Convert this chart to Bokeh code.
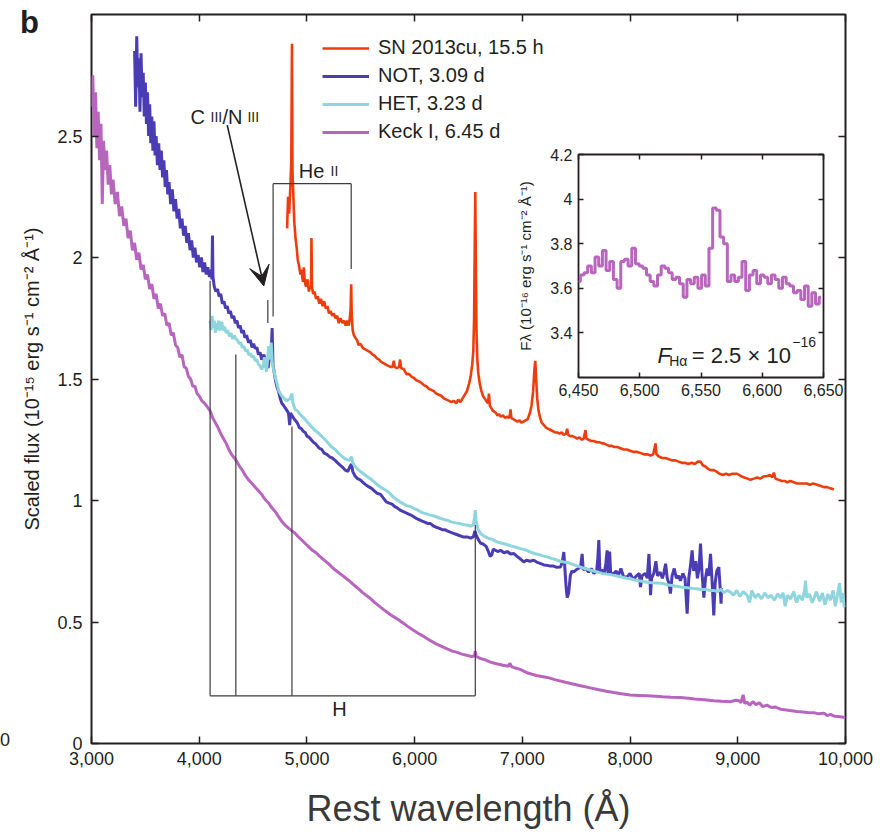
from bokeh.plotting import figure
from bokeh.models import (Legend, LegendItem, Label, Arrow, VeeHead, FixedTicker, Div,
                          NumeralTickFormatter, LinearAxis, CustomJSTickFormatter)
from bokeh.layouts import column
from bokeh.embed import file_html
from bokeh.resources import INLINE

# ---------------- data ----------------
SN_2013CU = [
    (4816, 2.12), (4825, 2.25), (4835, 2.18), (4847, 2.30), (4855, 2.40), (4861, 2.88), (4866, 2.35),
    (4872, 2.28), (4882, 2.15), (4894, 2.08), (4905, 2.04), (4915, 1.99), (4925, 1.97), (4940, 1.93),
    (4950, 1.95), (4956, 1.92), (4964, 1.90), (4971, 1.96), (4980, 1.90), (4992, 1.88), (5005, 1.91),
    (5018, 1.86), (5030, 1.88), (5038, 1.87), (5042, 2.08), (5047, 1.88), (5058, 1.85), (5070, 1.86),
    (5085, 1.83), (5100, 1.84), (5115, 1.81), (5130, 1.83), (5145, 1.80), (5160, 1.82), (5175, 1.79),
    (5190, 1.80), (5205, 1.77), (5219, 1.78), (5235, 1.76), (5250, 1.77), (5265, 1.75), (5280, 1.76),
    (5295, 1.73), (5312, 1.75), (5330, 1.73), (5345, 1.74), (5360, 1.72), (5374, 1.74), (5388, 1.72),
    (5398, 1.75), (5405, 1.78), (5411, 1.89), (5416, 1.76), (5425, 1.70), (5436, 1.68), (5450, 1.67),
    (5465, 1.66), (5480, 1.64), (5498, 1.645), (5515, 1.63), (5530, 1.625), (5550, 1.62), (5570, 1.615),
    (5590, 1.61), (5610, 1.60), (5630, 1.595), (5650, 1.585), (5670, 1.58), (5690, 1.57), (5710, 1.565),
    (5730, 1.56), (5750, 1.555), (5776, 1.55), (5795, 1.55), (5807, 1.575), (5815, 1.55), (5835, 1.545),
    (5855, 1.55), (5865, 1.58), (5875, 1.545), (5900, 1.54), (5925, 1.52), (5950, 1.52), (5970, 1.51),
    (5992, 1.505), (6015, 1.495), (6040, 1.49), (6060, 1.485), (6085, 1.475), (6110, 1.47), (6130, 1.46),
    (6155, 1.455), (6178, 1.45), (6200, 1.44), (6225, 1.435), (6250, 1.43), (6271, 1.42), (6295, 1.415),
    (6320, 1.41), (6340, 1.405), (6364, 1.41), (6385, 1.40), (6405, 1.415), (6425, 1.405), (6445, 1.42),
    (6465, 1.435), (6485, 1.45), (6505, 1.48), (6520, 1.51), (6535, 1.56), (6545, 1.62), (6552, 1.75),
    (6558, 2.05), (6563, 2.27), (6568, 2.00), (6574, 1.70), (6582, 1.58), (6592, 1.52), (6605, 1.48),
    (6620, 1.45), (6635, 1.43), (6650, 1.42), (6665, 1.41), (6680, 1.40), (6690, 1.44), (6698, 1.39),
    (6712, 1.38), (6725, 1.37), (6740, 1.365), (6755, 1.36), (6770, 1.35), (6785, 1.355), (6800, 1.345),
    (6820, 1.35), (6840, 1.34), (6860, 1.345), (6880, 1.34), (6890, 1.375), (6898, 1.34), (6915, 1.335),
    (6935, 1.33), (6955, 1.325), (6975, 1.33), (6990, 1.32), (7010, 1.325), (7030, 1.33), (7050, 1.335),
    (7070, 1.36), (7085, 1.39), (7100, 1.45), (7112, 1.54), (7120, 1.575), (7128, 1.50), (7138, 1.42),
    (7150, 1.37), (7165, 1.34), (7180, 1.32), (7200, 1.31), (7220, 1.30), (7240, 1.295), (7262, 1.29),
    (7285, 1.285), (7305, 1.28), (7324, 1.28), (7345, 1.275), (7365, 1.28), (7385, 1.27), (7405, 1.275),
    (7416, 1.295), (7425, 1.27), (7445, 1.265), (7465, 1.265), (7490, 1.26), (7509, 1.255), (7530, 1.26),
    (7550, 1.25), (7570, 1.255), (7586, 1.29), (7595, 1.255), (7615, 1.25), (7640, 1.245), (7663, 1.245),
    (7690, 1.24), (7715, 1.24), (7740, 1.235), (7756, 1.235), (7780, 1.23), (7805, 1.225), (7830, 1.225),
    (7855, 1.22), (7880, 1.22), (7911, 1.215), (7940, 1.21), (7970, 1.21), (8000, 1.205), (8030, 1.20),
    (8066, 1.20), (8100, 1.195), (8130, 1.19), (8160, 1.19), (8190, 1.185), (8215, 1.19), (8236, 1.235),
    (8245, 1.19), (8270, 1.18), (8300, 1.175), (8330, 1.175), (8360, 1.17), (8390, 1.165), (8420, 1.165),
    (8450, 1.16), (8480, 1.155), (8510, 1.155), (8540, 1.15), (8570, 1.155), (8600, 1.15), (8630, 1.16),
    (8654, 1.16), (8675, 1.145), (8700, 1.14), (8725, 1.13), (8747, 1.125), (8775, 1.125), (8800, 1.12),
    (8830, 1.11), (8860, 1.105), (8890, 1.11), (8920, 1.105), (8950, 1.11), (8994, 1.11), (9030, 1.10),
    (9060, 1.095), (9090, 1.09), (9118, 1.085), (9150, 1.09), (9180, 1.095), (9210, 1.09), (9242, 1.10),
    (9270, 1.10), (9300, 1.105), (9320, 1.095), (9335, 1.115), (9350, 1.09), (9380, 1.085), (9410, 1.08),
    (9440, 1.08), (9459, 1.075), (9490, 1.08), (9520, 1.075), (9550, 1.07), (9580, 1.07), (9613, 1.07),
    (9640, 1.07), (9670, 1.065), (9700, 1.07), (9737, 1.065), (9770, 1.06), (9800, 1.055), (9830, 1.055),
    (9860, 1.05), (9892, 1.045),
]

NOT_309 = [
    (3400, 2.85), (3410, 2.62), (3420, 2.91), (3430, 2.70), (3440, 2.82), (3450, 2.60), (3460, 2.84),
    (3470, 2.66), (3480, 2.76), (3490, 2.58), (3500, 2.72), (3510, 2.55), (3520, 2.68), (3530, 2.50),
    (3540, 2.63), (3550, 2.47), (3560, 2.58), (3570, 2.44), (3580, 2.56), (3590, 2.42), (3600, 2.50),
    (3612, 2.38), (3624, 2.47), (3636, 2.36), (3648, 2.44), (3660, 2.33), (3672, 2.40), (3684, 2.29),
    (3696, 2.36), (3708, 2.26), (3720, 2.31), (3735, 2.22), (3750, 2.28), (3765, 2.19), (3780, 2.24),
    (3795, 2.16), (3810, 2.20), (3825, 2.12), (3840, 2.16), (3855, 2.09), (3870, 2.13), (3885, 2.06),
    (3900, 2.10), (3915, 2.03), (3930, 2.07), (3945, 2.00), (3960, 2.04), (3975, 1.98), (3990, 2.01),
    (4005, 1.96), (4020, 2.00), (4035, 1.94), (4050, 1.98), (4065, 1.93), (4080, 1.96), (4095, 1.92),
    (4110, 1.95), (4118, 1.91), (4123, 2.09), (4128, 1.92), (4140, 1.88), (4155, 1.86), (4170, 1.87),
    (4185, 1.84), (4200, 1.85), (4215, 1.81), (4230, 1.82), (4245, 1.79), (4260, 1.80), (4275, 1.77),
    (4290, 1.78), (4305, 1.75), (4320, 1.76), (4335, 1.73), (4350, 1.74), (4365, 1.71), (4380, 1.72),
    (4395, 1.69), (4410, 1.70), (4425, 1.67), (4440, 1.68), (4458, 1.65), (4475, 1.66), (4490, 1.63),
    (4505, 1.645), (4520, 1.625), (4535, 1.63), (4550, 1.60), (4565, 1.61), (4580, 1.58), (4600, 1.60),
    (4620, 1.57), (4640, 1.545), (4655, 1.60), (4665, 1.58), (4677, 1.71), (4685, 1.56), (4695, 1.53),
    (4710, 1.49), (4720, 1.47), (4736, 1.45), (4752, 1.42), (4767, 1.40), (4785, 1.39), (4800, 1.38),
    (4815, 1.37), (4829, 1.36), (4840, 1.31), (4848, 1.36), (4860, 1.35), (4875, 1.34), (4891, 1.33),
    (4910, 1.32), (4930, 1.30), (4950, 1.295), (4965, 1.285), (4984, 1.28), (5000, 1.265), (5020, 1.26),
    (5040, 1.25), (5060, 1.24), (5077, 1.235), (5095, 1.225), (5115, 1.215), (5138, 1.21), (5160, 1.195),
    (5185, 1.19), (5210, 1.18), (5235, 1.175), (5262, 1.165), (5285, 1.155), (5310, 1.145), (5335, 1.135),
    (5355, 1.125), (5380, 1.12), (5400, 1.14), (5414, 1.15), (5425, 1.12), (5448, 1.10), (5470, 1.09),
    (5495, 1.085), (5520, 1.075), (5545, 1.065), (5572, 1.057), (5600, 1.05), (5625, 1.04), (5650, 1.03),
    (5683, 1.025), (5710, 1.01), (5735, 0.995), (5757, 0.99), (5790, 0.985), (5815, 0.975), (5838, 0.97),
    (5865, 0.96), (5890, 0.955), (5915, 0.95), (5940, 0.945), (5965, 0.94), (5992, 0.933), (6020, 0.925),
    (6045, 0.92), (6070, 0.915), (6100, 0.91), (6125, 0.905), (6147, 0.905), (6175, 0.895), (6200, 0.89),
    (6230, 0.885), (6255, 0.88), (6280, 0.88), (6302, 0.875), (6330, 0.87), (6360, 0.865), (6390, 0.86),
    (6420, 0.855), (6450, 0.85), (6488, 0.85), (6520, 0.845), (6545, 0.85), (6560, 0.875), (6570, 0.86),
    (6590, 0.84), (6611, 0.825), (6640, 0.82), (6665, 0.81), (6685, 0.79), (6700, 0.77), (6715, 0.775),
    (6730, 0.80), (6750, 0.795), (6770, 0.79), (6797, 0.795), (6830, 0.785), (6860, 0.79), (6890, 0.78),
    (6921, 0.782), (6950, 0.77), (6980, 0.76), (7014, 0.747), (7040, 0.755), (7070, 0.75), (7106, 0.754),
    (7140, 0.745), (7170, 0.74), (7200, 0.735), (7231, 0.733), (7260, 0.73), (7290, 0.73), (7320, 0.725),
    (7354, 0.726), (7370, 0.745), (7385, 0.788), (7395, 0.72), (7405, 0.65), (7416, 0.60), (7430, 0.62),
    (7445, 0.69), (7460, 0.71), (7478, 0.706), (7500, 0.715), (7520, 0.72), (7540, 0.726), (7555, 0.78),
    (7565, 0.715), (7590, 0.72), (7615, 0.705), (7640, 0.72), (7665, 0.70), (7690, 0.71), (7700, 0.76),
    (7710, 0.837), (7720, 0.70), (7735, 0.715), (7760, 0.70), (7775, 0.74), (7787, 0.795), (7795, 0.70),
    (7810, 0.79), (7820, 0.70), (7849, 0.70), (7870, 0.71), (7890, 0.69), (7915, 0.72), (7940, 0.685),
    (7973, 0.685), (8000, 0.70), (8030, 0.675), (8060, 0.69), (8085, 0.70), (8097, 0.644), (8110, 0.69),
    (8140, 0.70), (8160, 0.68), (8175, 0.78), (8185, 0.68), (8190, 0.61), (8200, 0.68), (8220, 0.70),
    (8240, 0.75), (8255, 0.69), (8280, 0.705), (8300, 0.68), (8313, 0.70), (8330, 0.74), (8345, 0.68),
    (8360, 0.66), (8375, 0.617), (8390, 0.69), (8410, 0.72), (8430, 0.68), (8450, 0.69), (8468, 0.67),
    (8490, 0.70), (8510, 0.68), (8530, 0.534), (8545, 0.68), (8560, 0.73), (8576, 0.795), (8590, 0.71),
    (8610, 0.75), (8625, 0.68), (8640, 0.72), (8654, 0.823), (8668, 0.70), (8685, 0.60), (8700, 0.68),
    (8715, 0.72), (8730, 0.69), (8747, 0.78), (8760, 0.68), (8777, 0.527), (8790, 0.66), (8805, 0.71),
    (8824, 0.726), (8835, 0.65), (8845, 0.575), (8850, 0.64),
]

HET_323 = [
    (4100, 1.74), (4110, 1.70), (4120, 1.76), (4130, 1.71), (4140, 1.74), (4150, 1.69), (4160, 1.73),
    (4170, 1.70), (4180, 1.74), (4190, 1.70), (4200, 1.72), (4210, 1.735), (4220, 1.70), (4235, 1.715),
    (4250, 1.69), (4265, 1.70), (4280, 1.675), (4295, 1.69), (4310, 1.665), (4325, 1.68), (4340, 1.665),
    (4355, 1.66), (4370, 1.645), (4385, 1.65), (4400, 1.63), (4415, 1.635), (4430, 1.615), (4445, 1.62),
    (4460, 1.60), (4475, 1.605), (4490, 1.59), (4505, 1.595), (4520, 1.575), (4535, 1.58), (4550, 1.56),
    (4565, 1.555), (4580, 1.54), (4595, 1.555), (4605, 1.59), (4615, 1.56), (4625, 1.53), (4635, 1.58),
    (4645, 1.635), (4652, 1.58), (4660, 1.60), (4668, 1.65), (4678, 1.57), (4690, 1.54), (4705, 1.51),
    (4720, 1.484), (4740, 1.45), (4767, 1.43), (4790, 1.42), (4810, 1.41), (4829, 1.415), (4845, 1.42),
    (4860, 1.44), (4870, 1.40), (4891, 1.374), (4910, 1.37), (4935, 1.355), (4960, 1.345), (4984, 1.333),
    (5010, 1.32), (5040, 1.305), (5070, 1.29), (5100, 1.28), (5138, 1.264), (5170, 1.25), (5200, 1.235),
    (5230, 1.22), (5262, 1.21), (5293, 1.195), (5330, 1.18), (5360, 1.17), (5390, 1.165), (5405, 1.175),
    (5414, 1.18), (5425, 1.155), (5448, 1.14), (5480, 1.125), (5510, 1.115), (5540, 1.105), (5570, 1.095),
    (5602, 1.085), (5640, 1.07), (5683, 1.055), (5720, 1.045), (5757, 1.035), (5800, 1.015), (5838, 1.002),
    (5880, 0.99), (5920, 0.98), (5960, 0.975), (5992, 0.968), (6030, 0.96), (6070, 0.95), (6110, 0.945),
    (6147, 0.94), (6190, 0.935), (6230, 0.928), (6270, 0.922), (6302, 0.919), (6340, 0.912), (6380, 0.908),
    (6420, 0.905), (6460, 0.90), (6488, 0.899), (6520, 0.895), (6545, 0.90), (6556, 0.93), (6563, 0.96),
    (6570, 0.92), (6585, 0.885), (6611, 0.864), (6640, 0.855), (6680, 0.845), (6720, 0.84), (6766, 0.83),
    (6800, 0.825), (6850, 0.82), (6880, 0.815), (6921, 0.81), (6960, 0.805), (7000, 0.80), (7040, 0.795),
    (7076, 0.788), (7110, 0.782), (7150, 0.778), (7190, 0.772), (7231, 0.768), (7270, 0.762), (7310, 0.757),
    (7350, 0.75), (7385, 0.747), (7420, 0.745), (7460, 0.738), (7500, 0.732), (7540, 0.726), (7580, 0.72),
    (7620, 0.715), (7660, 0.71), (7695, 0.706), (7740, 0.70), (7780, 0.697), (7820, 0.695), (7849, 0.692),
    (7890, 0.688), (7930, 0.684), (7970, 0.68), (8004, 0.678), (8040, 0.673), (8080, 0.67), (8120, 0.667),
    (8159, 0.664), (8200, 0.662), (8240, 0.66), (8280, 0.659), (8313, 0.658), (8350, 0.652), (8390, 0.65),
    (8430, 0.647), (8468, 0.644), (8510, 0.642), (8550, 0.64), (8590, 0.638), (8623, 0.637), (8660, 0.633),
    (8700, 0.635), (8740, 0.63), (8777, 0.63), (8810, 0.625), (8845, 0.635), (8870, 0.62), (8900, 0.63),
    (8932, 0.623), (8960, 0.61), (8990, 0.63), (9020, 0.605), (9050, 0.625), (9087, 0.61), (9110, 0.58),
    (9130, 0.63), (9160, 0.60), (9190, 0.615), (9220, 0.595), (9250, 0.62), (9280, 0.60), (9310, 0.61),
    (9340, 0.59), (9370, 0.615), (9397, 0.60), (9420, 0.62), (9440, 0.565), (9460, 0.61), (9490, 0.595),
    (9520, 0.625), (9545, 0.58), (9570, 0.61), (9600, 0.59), (9620, 0.63), (9629, 0.67), (9640, 0.60),
    (9665, 0.615), (9690, 0.58), (9706, 0.596), (9730, 0.625), (9760, 0.585), (9785, 0.62), (9810, 0.57),
    (9835, 0.615), (9860, 0.59), (9885, 0.63), (9905, 0.565), (9925, 0.61), (9945, 0.66), (9960, 0.58),
    (9975, 0.62), (9990, 0.56),
]

KECK_645 = [
    (3000, 2.62), (3012, 2.75), (3025, 2.50), (3038, 2.68), (3050, 2.45), (3062, 2.60), (3075, 2.40),
    (3088, 2.55), (3100, 2.22), (3112, 2.48), (3125, 2.36), (3140, 2.44), (3155, 2.30), (3170, 2.38),
    (3185, 2.26), (3200, 2.32), (3220, 2.22), (3240, 2.27), (3260, 2.17), (3280, 2.21), (3300, 2.13),
    (3320, 2.16), (3340, 2.08), (3360, 2.11), (3380, 2.03), (3400, 2.06), (3420, 1.99), (3440, 2.02),
    (3460, 1.95), (3480, 1.97), (3500, 1.91), (3520, 1.93), (3540, 1.87), (3560, 1.89), (3580, 1.83),
    (3600, 1.85), (3620, 1.79), (3640, 1.81), (3660, 1.76), (3680, 1.77), (3700, 1.72), (3720, 1.73),
    (3740, 1.68), (3760, 1.69), (3780, 1.64), (3800, 1.63), (3820, 1.59), (3840, 1.60), (3860, 1.55),
    (3880, 1.545), (3900, 1.51), (3920, 1.50), (3940, 1.47), (3960, 1.47), (3980, 1.44), (4000, 1.43),
    (4025, 1.41), (4050, 1.40), (4075, 1.385), (4100, 1.37), (4125, 1.34), (4150, 1.32), (4175, 1.30),
    (4200, 1.275), (4225, 1.255), (4250, 1.235), (4275, 1.21), (4300, 1.19), (4325, 1.175), (4350, 1.16),
    (4375, 1.14), (4400, 1.125), (4425, 1.105), (4458, 1.085), (4490, 1.07), (4520, 1.055), (4550, 1.04),
    (4580, 1.025), (4610, 1.005), (4643, 0.99), (4675, 0.97), (4705, 0.955), (4735, 0.935), (4765, 0.915),
    (4795, 0.90), (4829, 0.886), (4860, 0.875), (4890, 0.865), (4920, 0.85), (4950, 0.838), (4980, 0.825),
    (5015, 0.81), (5050, 0.795), (5085, 0.785), (5120, 0.77), (5160, 0.755), (5200, 0.74), (5245, 0.72),
    (5290, 0.705), (5335, 0.69), (5386, 0.672), (5430, 0.655), (5470, 0.64), (5520, 0.62), (5580, 0.60),
    (5630, 0.58), (5683, 0.561), (5730, 0.545), (5776, 0.53), (5830, 0.515), (5880, 0.50), (5935, 0.482),
    (5992, 0.465), (6040, 0.452), (6085, 0.44), (6140, 0.425), (6200, 0.41), (6250, 0.40), (6302, 0.389),
    (6350, 0.38), (6395, 0.375), (6440, 0.368), (6490, 0.362), (6530, 0.358), (6555, 0.36), (6563, 0.38),
    (6572, 0.358), (6610, 0.35), (6650, 0.345), (6704, 0.335), (6760, 0.328), (6820, 0.322), (6870, 0.318),
    (6885, 0.33), (6900, 0.316), (6921, 0.313), (6980, 0.305), (7050, 0.29), (7130, 0.28), (7231, 0.272),
    (7310, 0.262), (7400, 0.252), (7470, 0.245), (7540, 0.238), (7620, 0.23), (7700, 0.222), (7780, 0.215),
    (7849, 0.21), (7920, 0.205), (8000, 0.20), (8080, 0.198), (8159, 0.196), (8240, 0.194), (8300, 0.192),
    (8380, 0.19), (8468, 0.189), (8540, 0.186), (8600, 0.183), (8690, 0.18), (8777, 0.176), (8850, 0.174),
    (8930, 0.172), (8980, 0.178), (9010, 0.176), (9030, 0.168), (9050, 0.20), (9065, 0.165), (9088, 0.17),
    (9110, 0.158), (9140, 0.172), (9170, 0.16), (9200, 0.168), (9230, 0.152), (9270, 0.158), (9310, 0.148),
    (9350, 0.15), (9397, 0.141), (9450, 0.138), (9500, 0.135), (9550, 0.132), (9600, 0.13), (9650, 0.128),
    (9706, 0.127), (9750, 0.122), (9800, 0.125), (9830, 0.115), (9860, 0.12), (9900, 0.112), (9950, 0.11),
    (10000, 0.107),
]

# inset: Keck spectrum around H-alpha (3-A bins)
INSET_WL = [6450, 6453, 6456, 6459, 6462, 6465, 6468, 6471, 6474, 6477, 6480, 6483, 6486, 6489, 6492,
            6495, 6498, 6501, 6504, 6507, 6510, 6513, 6516, 6519, 6522, 6525, 6528, 6531, 6534, 6537,
            6540, 6543, 6546, 6549, 6552, 6555, 6558, 6561, 6564, 6567, 6570, 6573, 6576, 6579, 6582,
            6585, 6588, 6591, 6594, 6597, 6600, 6603, 6606, 6609, 6612, 6615, 6618, 6621, 6624, 6627,
            6630, 6633, 6636, 6639, 6642, 6645, 6648]
INSET_FLUX = [3.63, 3.66, 3.67, 3.70, 3.67, 3.74, 3.70, 3.77, 3.68, 3.72, 3.64, 3.60, 3.72, 3.73, 3.70,
              3.78, 3.71, 3.70, 3.69, 3.66, 3.63, 3.61, 3.66, 3.70, 3.69, 3.67, 3.64, 3.65, 3.62, 3.56,
              3.64, 3.62, 3.65, 3.60, 3.66, 3.61, 3.78, 3.96, 3.95, 3.83, 3.80, 3.63, 3.66, 3.63, 3.65,
              3.72, 3.59, 3.66, 3.68, 3.62, 3.66, 3.65, 3.62, 3.66, 3.64, 3.60, 3.65, 3.62, 3.61, 3.58,
              3.59, 3.55, 3.61, 3.52, 3.58, 3.53, 3.56]

SERIES_LABELS = ["SN 2013cu, 15.5 h", "NOT, 3.09 d", "HET, 3.23 d", "Keck I, 6.45 d"]
X_TICKS = [3000, 4000, 5000, 6000, 7000, 8000, 9000, 10000]
Y_TICKS = [0, 0.5, 1, 1.5, 2, 2.5]
INSET_X_TICKS = [6450, 6500, 6550, 6600, 6650]
INSET_Y_TICKS = [3.4, 3.6, 3.8, 4.0, 4.2]

# line identifications
H_LINES = [4101, 4340, 4861, 6563]
H_TOPS = [1.904, 1.601, 1.305, 0.899]
H_BASE = 0.196
HEII_LINES = [5411, 4686]
HEII_BOTTOMS = [1.953, 1.757]
HEII_TOP = 2.304
CIII_LINE = 4637
CIII_SPAN = [1.73, 1.825]

# ---------------- styling ----------------
FONT = "Liberation Sans"
INK = "#231f20"
C_SN = "#ef3c0d"
C_NOT = "#4a3db3"
C_HET = "#8ed5de"
C_KECK = "#b865be"
W, H = 884, 840


def split(pairs):
    return [a for a, _ in pairs], [b for _, b in pairs]


p = figure(width=W, height=H, x_range=(3000, 10000), y_range=(0, 3.0),
           output_backend="svg", toolbar_location=None,
           min_border_left=91, min_border_right=39, min_border_top=14, min_border_bottom=97)
p.grid.visible = False
p.outline_line_color = INK
p.outline_line_width = 2
p.background_fill_color = "white"
p.border_fill_color = "white"

for ax in (p.xaxis[0], p.yaxis[0]):
    ax.major_tick_in = 7
    ax.major_tick_out = 0
    ax.minor_tick_line_color = None
    ax.axis_line_color = None
    ax.major_tick_line_color = INK
    ax.major_tick_line_width = 1.5
    ax.major_label_text_font = FONT
    ax.major_label_text_font_size = "18px"
    ax.major_label_text_color = INK
    ax.axis_label_text_font_style = "normal"

p.xaxis[0].ticker = FixedTicker(ticks=X_TICKS)
p.xaxis[0].formatter = NumeralTickFormatter(format="0,0")
p.xaxis[0].major_label_standoff = 8
p.xaxis[0].axis_label = "Rest wavelength (Å)"
p.xaxis[0].axis_label_text_font = FONT
p.xaxis[0].axis_label_text_font_size = "36px"
p.xaxis[0].axis_label_text_color = "#3a3a3a"
p.xaxis[0].axis_label_standoff = 20

p.yaxis[0].ticker = FixedTicker(ticks=Y_TICKS)
p.yaxis[0].formatter = NumeralTickFormatter(format="0.[0]")
p.yaxis[0].major_label_standoff = 9
p.yaxis[0].axis_label = "Scaled flux (10\u207b\u00b9\u2075 erg s\u207b\u00b9 cm\u207b\u00b2 \u00c5\u207b\u00b9)"
p.yaxis[0].axis_label_text_font = FONT
p.yaxis[0].axis_label_text_font_size = "20px"
p.yaxis[0].axis_label_text_color = INK
p.yaxis[0].axis_label_standoff = 11

blank = "return ''"


def mirror_axis(ticks, tick_len):
    return LinearAxis(ticker=FixedTicker(ticks=ticks), formatter=CustomJSTickFormatter(code=blank),
                      major_tick_in=tick_len, major_tick_out=0, minor_tick_line_color=None,
                      axis_line_color=None, major_tick_line_color=INK, major_tick_line_width=1.5,
                      major_label_text_font_size="1px", major_label_standoff=0)


p.add_layout(mirror_axis(X_TICKS, 7), "above")
p.add_layout(mirror_axis(Y_TICKS, 7), "right")

kx, ky = split(KECK_645)
sx, sy = split(SN_2013CU)
nx, ny = split(NOT_309)
hx, hy = split(HET_323)

r_keck = p.line(kx, ky, line_color=C_KECK, line_width=3)
r_sn = p.line(sx, sy, line_color=C_SN, line_width=2.6)
r_not = p.line(nx, ny, line_color=C_NOT, line_width=3)
r_het = p.line(hx, hy, line_color=C_HET, line_width=3)

# line-identification brackets
GREY = "#3c3c3c"
p.segment(x0=H_LINES, y0=[H_BASE] * len(H_LINES), x1=H_LINES, y1=H_TOPS, line_color=GREY, line_width=1.2)
p.segment(x0=[H_LINES[0]], y0=[H_BASE], x1=[H_LINES[-1]], y1=[H_BASE], line_color=GREY, line_width=1.2)
p.segment(x0=HEII_LINES, y0=[HEII_TOP] * 2, x1=HEII_LINES, y1=HEII_BOTTOMS, line_color=GREY, line_width=1.2)
p.segment(x0=[HEII_LINES[1]], y0=[HEII_TOP], x1=[HEII_LINES[0]], y1=[HEII_TOP], line_color=GREY, line_width=1.2)
p.segment(x0=[CIII_LINE], y0=[CIII_SPAN[0]], x1=[CIII_LINE], y1=[CIII_SPAN[1]], line_color=GREY, line_width=1.2)

p.add_layout(Arrow(end=VeeHead(size=20, fill_color=INK, line_color=INK),
                   x_start=4260, y_start=2.545, x_end=4600, y_end=1.883,
                   line_color=INK, line_width=1.6))


def label(fig, x, y, text, size, **kw):
    opts = dict(text_font=FONT, text_font_size=size, text_color=INK, text_baseline="alphabetic")
    opts.update(kw)
    fig.add_layout(Label(x=x, y=y, text=text, **opts))


# "C III/N III" with small-capital ionisation stages
label(p, 3919, 2.577, "C", "20px")
label(p, 4105, 2.577, "III", "14px")
label(p, 4216, 2.577, "/N", "20px")
label(p, 4448, 2.577, "III", "14px")
# "He II"
label(p, 4925, 2.355, "He", "20px")
label(p, 5219, 2.355, "II", "14px")
label(p, 5302, 0.144, "H", "20px", text_align="center", text_baseline="middle")

legend = Legend(items=[LegendItem(label=SERIES_LABELS[0], renderers=[r_sn]),
                       LegendItem(label=SERIES_LABELS[1], renderers=[r_not]),
                       LegendItem(label=SERIES_LABELS[2], renderers=[r_het]),
                       LegendItem(label=SERIES_LABELS[3], renderers=[r_keck])],
                location=(231, 600), orientation="vertical",
                label_text_font=FONT, label_text_font_size="20px", label_text_color=INK,
                glyph_width=47, glyph_height=20, label_height=20, spacing=5,
                padding=0, margin=0, label_standoff=9,
                border_line_color=None, background_fill_alpha=0)
p.add_layout(legend)

# ---------------- inset ----------------
INS_L, INS_R, INS_T, INS_B = 91, 39, 8, 30
INS_FW, INS_FH = 245, 223
ins = figure(width=INS_L + INS_FW + INS_R, height=INS_T + INS_FH + INS_B,
             x_range=(6450, 6650), y_range=(3.2, 4.2),
             output_backend="svg", toolbar_location=None,
             min_border_left=INS_L, min_border_right=INS_R, min_border_top=INS_T, min_border_bottom=INS_B)
ins.grid.visible = False
ins.border_fill_color = None
ins.border_fill_alpha = 0
ins.background_fill_color = "white"
ins.outline_line_color = INK
ins.outline_line_width = 1.8
for ax in (ins.xaxis[0], ins.yaxis[0]):
    ax.major_tick_in = 5
    ax.major_tick_out = 0
    ax.minor_tick_line_color = None
    ax.axis_line_color = None
    ax.major_tick_line_color = INK
    ax.major_tick_line_width = 1.5
    ax.major_label_text_font = FONT
    ax.major_label_text_font_size = "16px"
    ax.major_label_text_color = INK
    ax.major_label_standoff = 6
ins.xaxis[0].ticker = FixedTicker(ticks=INSET_X_TICKS)
ins.xaxis[0].formatter = NumeralTickFormatter(format="0,0")
ins.yaxis[0].ticker = FixedTicker(ticks=INSET_Y_TICKS)
ins.yaxis[0].formatter = NumeralTickFormatter(format="0.[0]")
ins.yaxis[0].axis_label = "F\u03bb (10\u207b\u00b9\u2076 erg s\u207b\u00b9 cm\u207b\u00b2 \u00c5\u207b\u00b9)"
ins.yaxis[0].axis_label_text_font = FONT
ins.yaxis[0].axis_label_text_font_size = "15px"
ins.yaxis[0].axis_label_text_font_style = "normal"
ins.yaxis[0].axis_label_text_color = INK
ins.yaxis[0].axis_label_standoff = 13
ins.add_layout(mirror_axis(INSET_X_TICKS, 5), "above")
ins.add_layout(mirror_axis(INSET_Y_TICKS, 5), "right")

ins.step(INSET_WL, INSET_FLUX, mode="center", line_color=C_KECK, line_width=3)

label(ins, 6514.5, 3.30, "F", "22px", text_font_style="italic")
label(ins, 6524.0, 3.273, "H\u03b1", "14px")
label(ins, 6542.5, 3.30, "= 2.5 \u00d7 10", "22px")
label(ins, 6624.5, 3.36, "\u221216", "14px")

ins_left, ins_top = 578 - INS_L, 154 - INS_T
ins_h = INS_T + INS_FH + INS_B
ins.margin = (-(H - ins_top), 0, H - ins_top - ins_h, ins_left)

# panel letter and the clipped tick label of the neighbouring panel
b_top, b_h = 7, 36
panel_b = Div(text="b", width=30, height=b_h,
              styles={"font-family": FONT, "font-weight": "bold", "font-size": "31px",
                      "line-height": "31px", "color": INK})
panel_b.margin = (-(H - b_top), 0, H - b_top - b_h, 20)
z_top, z_h = 731, 22
stray0 = Div(text="0", width=14, height=z_h,
             styles={"font-family": FONT, "font-size": "18px", "line-height": "18px", "color": INK})
stray0.margin = (-(H - z_top), 0, H - z_top - z_h, 0)

layout = column(p, ins, panel_b, stray0)
open("out.html", "w").write(file_html(layout, INLINE))
